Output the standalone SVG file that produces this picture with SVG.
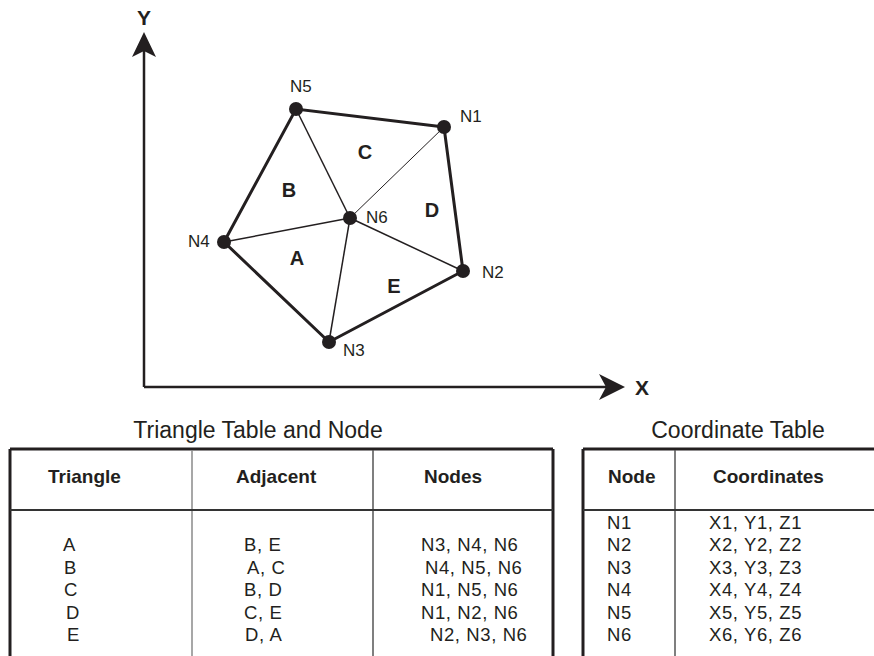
<svg xmlns="http://www.w3.org/2000/svg" width="874" height="656" viewBox="0 0 874 656">
<style>
text{font-family:"Liberation Sans",Arial,sans-serif;fill:#231f20}
.lbl{font-size:17px}
.tri{font-size:20px;font-weight:bold;text-anchor:middle}
.ax{font-size:21px;font-weight:bold;text-anchor:middle}
.title{font-size:23px;text-anchor:middle}
.hd{font-size:19px;font-weight:bold}
.cell{font-size:18.5px;letter-spacing:0.6px}
.outer{stroke:#231f20;stroke-width:3;fill:none;stroke-linecap:round}
.inner{stroke:#231f20;stroke-width:1.5;fill:none}
.thin{stroke:#231f20;stroke-width:1;fill:none}
.axis{stroke:#231f20;stroke-width:2.5;fill:none}
.border{stroke:#231f20;stroke-width:3;fill:none}
.div{stroke:#8a8a8a;stroke-width:1.5;fill:none}
.div2{stroke:#555;stroke-width:1.5;fill:none}
.hline{stroke:#333;stroke-width:2;fill:none}
.dot{fill:#231f20}
</style>
<g id="axes">
<line class="axis" x1="144" y1="48" x2="144" y2="387"/>
<line class="axis" x1="144" y1="387" x2="608" y2="387"/>
<polygon class="dot" points="144,32 156,57 144,51 132,57"/>
<polygon class="dot" points="625,387 599,374 606,387 599,400"/>
<text class="ax" x="144" y="25">Y</text>
<text class="ax" x="642" y="395">X</text>
</g>
<g id="connectors">
<polyline class="outer" points="444,127 463,271 329,342 224,242 296,109 444,127"/>
<line class="inner" x1="296" y1="109" x2="350" y2="218"/>
<line class="inner" x1="224" y1="242" x2="350" y2="218"/>
<line class="inner" x1="329" y1="342" x2="350" y2="218"/>
<line class="inner" x1="463" y1="271" x2="350" y2="218"/>
<line class="thin" x1="444" y1="127" x2="350" y2="218"/>
</g>
<g id="N1"><circle class="dot" cx="444" cy="127" r="7"/><text class="lbl" x="460" y="122">N1</text></g>
<g id="N2"><circle class="dot" cx="463" cy="271" r="7"/><text class="lbl" x="482" y="278">N2</text></g>
<g id="N3"><circle class="dot" cx="329" cy="342" r="7"/><text class="lbl" x="343" y="356">N3</text></g>
<g id="N4"><circle class="dot" cx="224" cy="242" r="7"/><text class="lbl" x="188" y="247">N4</text></g>
<g id="N5"><circle class="dot" cx="296" cy="109" r="7"/><text class="lbl" x="290" y="92">N5</text></g>
<g id="N6"><circle class="dot" cx="350" cy="218" r="7"/><text class="lbl" x="366" y="223">N6</text></g>
<g id="triangles">
<text class="tri" x="297" y="265">A</text>
<text class="tri" x="289" y="197">B</text>
<text class="tri" x="365" y="159">C</text>
<text class="tri" x="432" y="217">D</text>
<text class="tri" x="394" y="293">E</text>
</g>
<g id="triangle-table">
<text class="title" x="258" y="438">Triangle Table and Node</text>
<line class="border" x1="10" y1="449" x2="553" y2="449"/>
<line class="border" x1="10" y1="449" x2="10" y2="656"/>
<line class="border" x1="553" y1="449" x2="553" y2="656"/>
<line class="div" x1="192" y1="450" x2="192" y2="656"/>
<line class="div2" x1="373" y1="450" x2="373" y2="656"/>
<line class="hline" x1="10" y1="510" x2="553" y2="510"/>
<text class="hd" x="48" y="483">Triangle</text>
<text class="hd" x="236" y="483">Adjacent</text>
<text class="hd" x="424" y="483">Nodes</text>
<g class="cell">
<text x="63" y="551">A</text>
<text x="64" y="574">B</text>
<text x="64" y="596">C</text>
<text x="66" y="619">D</text>
<text x="67" y="641">E</text>
<text x="244" y="551">B, E</text>
<text x="247" y="574">A, C</text>
<text x="244" y="596">B, D</text>
<text x="244" y="619">C, E</text>
<text x="245" y="641">D, A</text>
<text x="421" y="551">N3, N4, N6</text>
<text x="425" y="574">N4, N5, N6</text>
<text x="421" y="596">N1, N5, N6</text>
<text x="421" y="619">N1, N2, N6</text>
<text x="430" y="641">N2, N3, N6</text>
</g>
</g>
<g id="coordinate-table">
<text class="title" x="738" y="438">Coordinate Table</text>
<line class="border" x1="583" y1="449" x2="874" y2="449"/>
<line class="border" x1="583" y1="449" x2="583" y2="656"/>
<line class="div2" x1="675" y1="450" x2="675" y2="656"/>
<line class="hline" x1="583" y1="510" x2="874" y2="510"/>
<text class="hd" x="608" y="483">Node</text>
<text class="hd" x="713" y="483">Coordinates</text>
<g class="cell">
<text x="607" y="529">N1</text>
<text x="607" y="551">N2</text>
<text x="607" y="574">N3</text>
<text x="607" y="596">N4</text>
<text x="607" y="619">N5</text>
<text x="607" y="641">N6</text>
<text x="709" y="529">X1, Y1, Z1</text>
<text x="709" y="551">X2, Y2, Z2</text>
<text x="709" y="574">X3, Y3, Z3</text>
<text x="709" y="596">X4, Y4, Z4</text>
<text x="709" y="619">X5, Y5, Z5</text>
<text x="709" y="641">X6, Y6, Z6</text>
</g>
</g>
</svg>
